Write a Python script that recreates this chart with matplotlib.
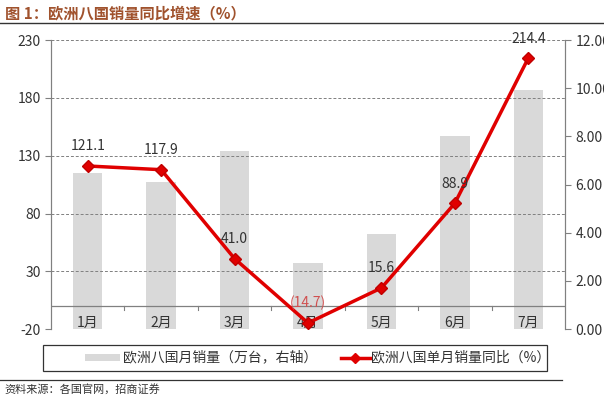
import matplotlib
matplotlib.use("Agg")
import matplotlib.pyplot as plt
from matplotlib.lines import Line2D
from matplotlib.patches import Rectangle
import numpy as np

plt.rcParams['font.family'] = ['Noto Sans CJK SC', 'DejaVu Sans']

months = ['1月', '2月', '3月', '4月', '5月', '6月', '7月']
sales = [6.49, 6.09, 7.40, 2.75, 3.94, 8.01, 9.92]          # 万台, right axis
yoy = [121.1, 117.9, 41.0, -14.7, 15.6, 88.9, 214.4]          # %, left axis
yoy_labels = ['121.1', '117.9', '41.0', '(14.7)', '15.6', '88.9', '214.4']
left_ticks = [-20, 30, 80, 130, 180, 230]
right_ticks = [0, 2, 4, 6, 8, 10, 12]

fig = plt.figure(figsize=(6.04, 3.97), dpi=100)
ax = fig.add_axes([0.0844, 0.171, 0.851, 0.728])
ax2 = ax.twinx()

x = np.arange(len(months))
# bars on right axis
ax2.bar(x, sales, width=0.4, color='#D9D9D9', zorder=1)
ax2.set_ylim(0, 12)
ax2.set_yticks(right_ticks)
ax2.set_yticklabels([f'{v:.2f}' for v in right_ticks], fontsize=10, color='#333333')

# left axis line
ax.set_zorder(ax2.get_zorder() + 1)
ax.patch.set_visible(False)
ax.set_ylim(-20, 230)
ax.set_xlim(-0.5, len(months) - 0.5)
ax.set_yticks(left_ticks)
ax.set_yticklabels([str(v) for v in left_ticks], fontsize=10, color='#333333')
ax.grid(axis='y', linestyle=(0, (3, 2)), color='#808080', linewidth=0.7)
ax.set_axisbelow(True)
ax.axhline(0, color='#808080', linewidth=0.9, zorder=2)
ax.plot(x, yoy, color='#E00000', linewidth=2.5, marker='D', markersize=6,
        markerfacecolor='#E00000', markeredgecolor='#C00000', zorder=5)

for xi, v, lab in zip(x, yoy, yoy_labels):
    col = '#D05050' if v < 0 else '#333333'
    ax.annotate(lab, (xi, v), xytext=(0, 9), textcoords='offset points',
                ha='center', va='bottom', fontsize=10, color=col, zorder=6)

# category labels just below the zero line
ax.set_xticks([])
for xi, m in zip(x, months):
    ax.annotate(m, (xi, 0), xytext=(0, -12.5), textcoords='offset points',
                ha='center', va='center', fontsize=10, color='#333333', zorder=4)

for b in np.arange(0.5, len(months) - 0.5, 1):
    ax.plot([b, b], [0, -3.5], color='#808080', linewidth=0.8, zorder=2)

for a in (ax, ax2):
    a.spines['top'].set_visible(False)
    a.spines['bottom'].set_visible(False)
    a.spines['left'].set_color('#808080')
    a.spines['right'].set_color('#808080')
    a.tick_params(axis='y', length=4, color='#808080')
ax.tick_params(axis='x', length=0)

# title
fig.text(0.008, 0.965, '图 1：欧洲八国销量同比增速（%）', fontsize=11, fontweight='bold',
         color='#A0522D', ha='left', va='center')
fig.add_artist(Line2D([0, 1], [0.942, 0.942], color='#333333', linewidth=1.0,
                      transform=fig.transFigure))

# legend box
fig.add_artist(Rectangle((0.071, 0.065), 0.835, 0.067, transform=fig.transFigure,
                         fill=False, edgecolor='#333333', linewidth=0.9))
fig.add_artist(Rectangle((0.14, 0.09), 0.058, 0.018, transform=fig.transFigure,
                         facecolor='#D9D9D9', edgecolor='none'))
fig.text(0.203, 0.099, '欧洲八国月销量（万台，右轴）', fontsize=10, color='#333333',
         ha='left', va='center')
fig.add_artist(Line2D([0.565, 0.612], [0.099, 0.099], color='#E00000', linewidth=2.5,
                      transform=fig.transFigure))
fig.add_artist(Line2D([0.5885], [0.099], color='#E00000', marker='D', markersize=5,
                      transform=fig.transFigure))
fig.text(0.614, 0.099, '欧洲八国单月销量同比（%）', fontsize=10, color='#333333',
         ha='left', va='center')

# source
fig.add_artist(Line2D([0, 0.93], [0.043, 0.043], color='#333333', linewidth=0.9,
                      transform=fig.transFigure))
fig.text(0.008, 0.02, '资料来源：各国官网，招商证券', fontsize=8, color='#333333',
         ha='left', va='center')

fig.savefig('out.png', dpi=100)
